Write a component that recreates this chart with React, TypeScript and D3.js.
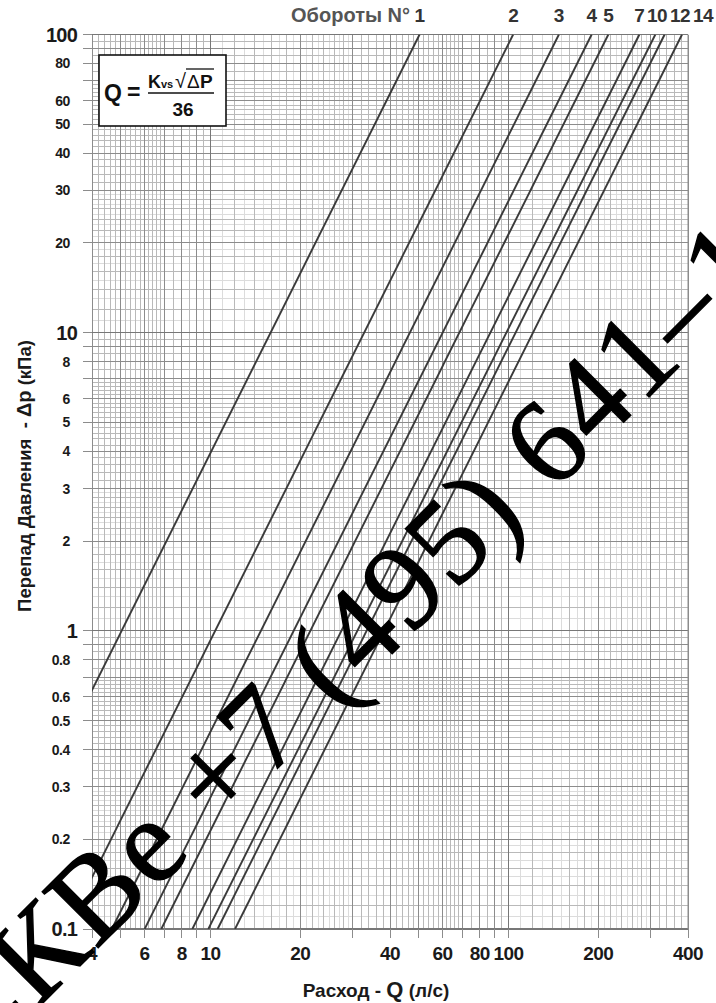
import React from 'react';
import * as d3 from 'd3';

// turns of the valve handle and the matching Kvs (m3/h)
const turns = ['1', '2', '3', '4', '5', '7', '10', '12', '14'];
const kvsValues = [181, 373, 531, 684, 778, 989, 1119, 1202, 1375];

const xTickLabels = [4, 6, 8, 10, 20, 40, 60, 80, 100, 200, 400];
const yTickLabels = [0.1, 0.2, 0.3, 0.4, 0.5, 0.6, 0.8, 1, 2, 3, 4, 5, 6, 8, 10, 20, 30, 40, 50, 60, 80, 100];
const decadeValues = [0.1, 1, 10, 100];

// graph paper subdivisions inside one decade
const majorMantissa = [1, 2, 3, 4, 5, 6, 7, 8, 9];
const minorMedium = [1.2, 1.4, 1.6, 1.8, 2.2, 2.4, 2.6, 2.8, 3.2, 3.4, 3.6, 3.8, 4.2, 4.4, 4.6, 4.8,
  5.2, 5.4, 5.6, 5.8, 6.2, 6.4, 6.6, 6.8, 7.5, 8.5, 9.5];
const minorLight = [1.1, 1.3, 1.5, 1.7, 1.9, 2.1, 2.3, 2.5, 2.7, 2.9];

const W = 716;
const H = 1003;
const margin = { top: 34.5, right: 28, bottom: 74, left: 92 };

const SANS = "'Liberation Sans', Arial, Helvetica, sans-serif";
const SERIF = "'Liberation Serif', 'Times New Roman', serif";

const flow = (kvs: number, dp: number) => (kvs * Math.sqrt(dp)) / 36;

export default function App() {
  const x = d3.scaleLog().domain([4, 400]).range([margin.left, W - margin.right]);
  const y = d3.scaleLog().domain([0.1, 100]).range([H - margin.bottom, margin.top]);
  const [x0, x1] = x.range();
  const [y0, y1] = y.range();

  const spread = (ms: number[]) =>
    [0.1, 1, 10, 100].flatMap(d => ms.map(m => +(d * m).toPrecision(6)));
  const inX = (v: number) => v >= 4 - 1e-9 && v <= 400 + 1e-9;
  const inY = (v: number) => v >= 0.1 - 1e-9 && v <= 100 + 1e-9;

  const majors = spread(majorMantissa);
  const mediums = spread(minorMedium);
  const lights = spread(minorLight);
  const isDecade = (v: number) => Math.abs(Math.log10(v) - Math.round(Math.log10(v))) < 1e-6;

  const grid = (vals: number[], color: string, width: number, key: string) => (
    <g key={key} stroke={color} strokeWidth={width} shapeRendering="crispEdges">
      {vals.filter(inX).map(v => (
        <line key={'x' + v} x1={x(v)} x2={x(v)} y1={y1} y2={y0} />
      ))}
      {vals.filter(inY).map(v => (
        <line key={'y' + v} x1={x0} x2={x1} y1={y(v)} y2={y(v)} />
      ))}
    </g>
  );

  const line = d3.line<number>();
  const dpEnds = [0.1, 100];

  // turn labels along the top, pushed apart when they collide
  const labelPos: number[] = [];
  kvsValues.forEach((k, i) => {
    let px = x(flow(k, 100));
    if (i > 0) {
      const prev = labelPos[i - 1];
      const need = (turns[i - 1].length * 10.5 + turns[i].length * 10.5) / 2 + 2;
      px = Math.max(px, prev + need);
    }
    labelPos.push(px);
  });

  return (
    <div style={{ position: 'absolute', left: 0, top: 0 }}>
      <svg width={W} height={H} style={{ display: 'block', background: '#fff' }}>
        <defs>
          <clipPath id="plot">
            <rect x={x0} y={y1} width={x1 - x0} height={y0 - y1} />
          </clipPath>
        </defs>

        {grid(lights, '#dcdcdc', 1, 'light')}
        {grid(mediums, '#b9b9b9', 1, 'medium')}
        {grid(majors.filter(v => !isDecade(v)), '#8c8c8c', 1, 'major')}
        {grid(majors.filter(isDecade), '#777', 1.3, 'decade')}
        <line x1={x1} x2={x1} y1={y1} y2={y0} stroke="#8c8c8c" />

        {/* ticks */}
        <g stroke="#8c8c8c" strokeWidth={1} shapeRendering="crispEdges">
          {majors.filter(inX).map(v => (
            <line key={'tx' + v} x1={x(v)} x2={x(v)} y1={y0} y2={y0 + 9} />
          ))}
          {majors.filter(inY).map(v => (
            <line key={'ty' + v} x1={x0 - 9} x2={x0} y1={y(v)} y2={y(v)} />
          ))}
        </g>

        {/* characteristic lines */}
        <g clipPath="url(#plot)" fill="none" stroke="#3a3a3a" strokeWidth={1.9}>
          {kvsValues.map((k, i) => (
            <path key={turns[i]} d={line(dpEnds.map(dp => [x(flow(k, dp)), y(dp)]) as [number, number][]) || ''} />
          ))}
        </g>

        {/* formula box */}
        <rect x={99} y={55} width={127} height={71} fill="#fff" stroke="#111" strokeWidth={1.6} />
        <g fontFamily={SANS} fontWeight="bold" fill="#111">
          <text x={104} y={101} fontSize={23}>Q</text>
          <text x={127} y={100} fontSize={23}>=</text>
          <text x={148} y={88} fontSize={18}>
            K<tspan fontSize={11}>vs</tspan>
          </text>
          <text x={175} y={88} fontSize={20} fontWeight="normal">√</text>
          <line x1={186} x2={214} y1={69} y2={69} stroke="#111" strokeWidth={1.3} />
          <text x={187} y={88} fontSize={19} fontWeight="normal">Δ</text>
          <text x={200} y={88} fontSize={19}>P</text>
          <line x1={148} x2={214} y1={93} y2={93} stroke="#111" strokeWidth={1.5} />
          <text x={183} y={116} fontSize={19} textAnchor="middle">36</text>
        </g>

        {/* y tick labels */}
        <g fontFamily={SANS} fontWeight="bold" fill="#1a1a1a">
          {yTickLabels.map(v => {
            const dec = decadeValues.includes(v);
            return (
              <text key={'yl' + v} x={dec ? 77 : 70} y={y(v)} dy="0.36em"
                textAnchor="end" fontSize={dec ? 20 : 14} letterSpacing={dec ? -0.8 : -0.4}>
                {v}
              </text>
            );
          })}
        </g>

        {/* x tick labels */}
        <g fontFamily={SANS} fontWeight="bold" fill="#1a1a1a" fontSize={19}>
          {xTickLabels.map(v => (
            <text key={'xl' + v} x={x(v)} y={960} textAnchor="middle" letterSpacing={-0.5}>{v}</text>
          ))}
        </g>

        {/* turns header */}
        <g fontFamily={SANS} fontWeight="bold" fontSize={19}>
          <text x={410} y={22} textAnchor="end" fill="#555" fontSize={20}>Обороты N°</text>
          {turns.map((t, i) => (
            <text key={'tl' + t} x={labelPos[i]} y={22} textAnchor="middle" fill="#333" letterSpacing={-0.5}>{t}</text>
          ))}
        </g>

        {/* axis titles */}
        <text x={376} y={997} textAnchor="middle" fontFamily={SANS} fontWeight="bold" fontSize={19} fill="#1a1a1a">
          Расход - <tspan fontSize={22}>Q</tspan> (л/с)
        </text>
        <text transform="translate(31,476) rotate(-90)" textAnchor="middle" fontFamily={SANS}
          fontWeight="bold" fontSize={18.5} fill="#1a1a1a">
          {'Перепад Давления\u00a0\u00a0- '}<tspan fontSize={20}>Δp</tspan> (кПа)
        </text>

        {/* watermark */}
        <text transform="translate(-22,1068) rotate(-45)" fontFamily={SERIF} fontSize={121}
          letterSpacing={2.5} fill="#000" stroke="#000" strokeWidth={1.4}>
          СКВе +7 (495) 641–1
        </text>
      </svg>
    </div>
  );
}
